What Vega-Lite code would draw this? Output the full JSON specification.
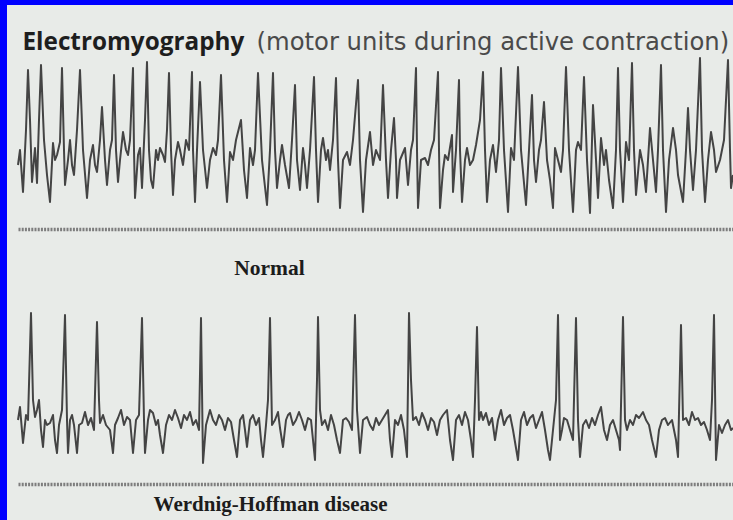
{
  "$schema": "https://vega.github.io/schema/vega-lite/v6.json",
  "width": 726,
  "height": 515,
  "autosize": {"type": "none"},
  "padding": {"left": 7, "top": 5, "right": 0, "bottom": 0},
  "background": "#0000ff",
  "config": {"view": {"fill": "#e8ebe8", "stroke": null}},
  "datasets": {
    "normal": [
      {"t":0,"amp":-15},{"t":2,"amp":0},{"t":5,"amp":-42},{"t":8,"amp":20},{"t":10,"amp":80},{"t":12,"amp":30},{"t":14,"amp":-32},{"t":17,"amp":2},{"t":19,"amp":-33},{"t":21,"amp":30},
      {"t":23,"amp":85},{"t":26,"amp":10},{"t":29,"amp":-25},{"t":32,"amp":-52},{"t":35,"amp":7},{"t":37,"amp":-10},{"t":39,"amp":-5},{"t":42,"amp":8},{"t":44,"amp":82},{"t":46,"amp":0},
      {"t":47,"amp":-35},{"t":50,"amp":-10},{"t":52,"amp":10},{"t":54,"amp":-15},{"t":56,"amp":-25},{"t":59,"amp":20},{"t":62,"amp":80},{"t":65,"amp":0},{"t":69,"amp":-48},{"t":72,"amp":-10},
      {"t":75,"amp":5},{"t":77,"amp":-15},{"t":79,"amp":-22},{"t":82,"amp":10},{"t":84,"amp":43},{"t":87,"amp":-10},{"t":89,"amp":-35},{"t":92,"amp":0},{"t":94,"amp":10},{"t":96,"amp":75},
      {"t":98,"amp":0},{"t":100,"amp":-32},{"t":102,"amp":-10},{"t":105,"amp":18},{"t":108,"amp":0},{"t":110,"amp":-5},{"t":112,"amp":10},{"t":115,"amp":82},{"t":116,"amp":0},{"t":117,"amp":-48},
      {"t":120,"amp":-5},{"t":122,"amp":2},{"t":124,"amp":-38},{"t":127,"amp":30},{"t":129,"amp":88},{"t":131,"amp":0},{"t":133,"amp":-30},{"t":135,"amp":-38},{"t":138,"amp":0},{"t":140,"amp":-10},
      {"t":142,"amp":2},{"t":145,"amp":-5},{"t":147,"amp":-12},{"t":149,"amp":20},{"t":151,"amp":77},{"t":153,"amp":0},{"t":155,"amp":-45},{"t":157,"amp":-10},{"t":160,"amp":8},{"t":162,"amp":0},
      {"t":165,"amp":-15},{"t":168,"amp":10},{"t":171,"amp":0},{"t":174,"amp":78},{"t":175,"amp":0},{"t":177,"amp":-52},{"t":179,"amp":0},{"t":182,"amp":68},{"t":185,"amp":0},{"t":189,"amp":-38},
      {"t":192,"amp":-10},{"t":195,"amp":2},{"t":198,"amp":-5},{"t":200,"amp":10},{"t":203,"amp":75},{"t":206,"amp":-10},{"t":209,"amp":-52},{"t":212,"amp":-2},{"t":215,"amp":-10},{"t":218,"amp":10},
      {"t":223,"amp":30},{"t":226,"amp":-20},{"t":229,"amp":-48},{"t":232,"amp":2},{"t":235,"amp":-15},{"t":237,"amp":0},{"t":240,"amp":77},{"t":244,"amp":-10},{"t":249,"amp":-55},{"t":252,"amp":0},
      {"t":255,"amp":77},{"t":257,"amp":0},{"t":259,"amp":-38},{"t":262,"amp":-10},{"t":264,"amp":5},{"t":267,"amp":-15},{"t":271,"amp":-38},{"t":274,"amp":10},{"t":277,"amp":65},{"t":279,"amp":-10},
      {"t":282,"amp":-40},{"t":285,"amp":2},{"t":287,"amp":-15},{"t":289,"amp":-38},{"t":292,"amp":0},{"t":296,"amp":73},{"t":298,"amp":0},{"t":300,"amp":-52},{"t":303,"amp":0},{"t":305,"amp":12},
      {"t":308,"amp":-10},{"t":310,"amp":0},{"t":312,"amp":-20},{"t":315,"amp":10},{"t":318,"amp":72},{"t":320,"amp":-10},{"t":322,"amp":-58},{"t":325,"amp":-10},{"t":329,"amp":-2},{"t":332,"amp":-15},
      {"t":335,"amp":10},{"t":340,"amp":70},{"t":342,"amp":-10},{"t":345,"amp":-62},{"t":348,"amp":-10},{"t":352,"amp":18},{"t":355,"amp":-15},{"t":358,"amp":0},{"t":362,"amp":-10},{"t":365,"amp":65},
      {"t":368,"amp":-10},{"t":370,"amp":-48},{"t":373,"amp":0},{"t":376,"amp":32},{"t":378,"amp":-10},{"t":379,"amp":-48},{"t":382,"amp":-10},{"t":387,"amp":2},{"t":390,"amp":-35},{"t":393,"amp":0},
      {"t":395,"amp":10},{"t":398,"amp":82},{"t":399,"amp":0},{"t":400,"amp":-58},{"t":403,"amp":-10},{"t":407,"amp":-8},{"t":410,"amp":-15},{"t":413,"amp":0},{"t":416,"amp":10},{"t":420,"amp":78},
      {"t":421,"amp":0},{"t":422,"amp":-58},{"t":425,"amp":-20},{"t":427,"amp":-5},{"t":430,"amp":-10},{"t":434,"amp":15},{"t":435,"amp":-42},{"t":438,"amp":0},{"t":441,"amp":70},{"t":442,"amp":0},
      {"t":444,"amp":-52},{"t":447,"amp":-10},{"t":449,"amp":2},{"t":452,"amp":-15},{"t":455,"amp":-10},{"t":458,"amp":5},{"t":462,"amp":30},{"t":465,"amp":78},{"t":467,"amp":0},{"t":469,"amp":-52},
      {"t":472,"amp":-10},{"t":475,"amp":5},{"t":478,"amp":-22},{"t":481,"amp":10},{"t":483,"amp":82},{"t":486,"amp":0},{"t":490,"amp":-62},{"t":493,"amp":2},{"t":496,"amp":-10},{"t":500,"amp":83},
      {"t":503,"amp":0},{"t":508,"amp":-55},{"t":511,"amp":0},{"t":514,"amp":55},{"t":516,"amp":-10},{"t":518,"amp":-32},{"t":521,"amp":0},{"t":523,"amp":10},{"t":526,"amp":48},{"t":529,"amp":-10},
      {"t":532,"amp":-30},{"t":535,"amp":-58},{"t":537,"amp":2},{"t":540,"amp":-10},{"t":543,"amp":-22},{"t":545,"amp":0},{"t":548,"amp":83},{"t":551,"amp":0},{"t":555,"amp":-62},{"t":558,"amp":0},
      {"t":560,"amp":8},{"t":563,"amp":0},{"t":566,"amp":73},{"t":569,"amp":-10},{"t":572,"amp":-63},{"t":575,"amp":45},{"t":578,"amp":-10},{"t":580,"amp":-48},{"t":583,"amp":12},{"t":586,"amp":-15},
      {"t":588,"amp":0},{"t":591,"amp":-30},{"t":595,"amp":-58},{"t":598,"amp":0},{"t":600,"amp":82},{"t":602,"amp":0},{"t":605,"amp":-52},{"t":608,"amp":8},{"t":611,"amp":-10},{"t":614,"amp":87},
      {"t":616,"amp":0},{"t":618,"amp":-45},{"t":622,"amp":0},{"t":625,"amp":-15},{"t":628,"amp":-42},{"t":632,"amp":22},{"t":635,"amp":-10},{"t":638,"amp":-42},{"t":640,"amp":0},{"t":643,"amp":85},
      {"t":645,"amp":0},{"t":648,"amp":-62},{"t":651,"amp":-10},{"t":655,"amp":22},{"t":658,"amp":0},{"t":660,"amp":-25},{"t":665,"amp":-52},{"t":668,"amp":0},{"t":670,"amp":42},{"t":672,"amp":0},
      {"t":675,"amp":-40},{"t":678,"amp":0},{"t":682,"amp":92},{"t":684,"amp":0},{"t":687,"amp":-52},{"t":690,"amp":-10},{"t":693,"amp":18},{"t":696,"amp":0},{"t":698,"amp":-22},{"t":702,"amp":-10},
      {"t":706,"amp":10},{"t":710,"amp":90},{"t":712,"amp":0},{"t":713,"amp":-38},{"t":715,"amp":-25}
    ],
    "werdnig": [
      {"t":0,"amp":0},{"t":2,"amp":13},{"t":5,"amp":-23},{"t":8,"amp":5},{"t":10,"amp":0},{"t":13,"amp":107},{"t":15,"amp":20},{"t":17,"amp":3},{"t":19,"amp":10},{"t":21,"amp":20},
      {"t":23,"amp":-10},{"t":25,"amp":-27},{"t":27,"amp":0},{"t":29,"amp":-5},{"t":32,"amp":-3},{"t":35,"amp":5},{"t":37,"amp":-20},{"t":39,"amp":-33},{"t":41,"amp":-5},{"t":44,"amp":10},
      {"t":47,"amp":105},{"t":49,"amp":0},{"t":50,"amp":-33},{"t":52,"amp":0},{"t":54,"amp":5},{"t":56,"amp":-5},{"t":59,"amp":-33},{"t":61,"amp":-5},{"t":64,"amp":-3},{"t":67,"amp":8},
      {"t":70,"amp":-5},{"t":73,"amp":2},{"t":76,"amp":-10},{"t":79,"amp":98},{"t":81,"amp":20},{"t":82,"amp":-3},{"t":85,"amp":5},{"t":88,"amp":-5},{"t":92,"amp":-10},{"t":95,"amp":-33},
      {"t":97,"amp":-5},{"t":100,"amp":2},{"t":103,"amp":10},{"t":106,"amp":-5},{"t":109,"amp":3},{"t":112,"amp":0},{"t":115,"amp":-33},{"t":118,"amp":0},{"t":121,"amp":5},{"t":124,"amp":102},
      {"t":126,"amp":0},{"t":127,"amp":-33},{"t":130,"amp":0},{"t":132,"amp":10},{"t":135,"amp":7},{"t":138,"amp":-5},{"t":140,"amp":0},{"t":142,"amp":-15},{"t":145,"amp":-33},{"t":148,"amp":-5},
      {"t":151,"amp":5},{"t":154,"amp":0},{"t":157,"amp":10},{"t":160,"amp":2},{"t":163,"amp":-8},{"t":166,"amp":5},{"t":169,"amp":0},{"t":172,"amp":8},{"t":175,"amp":-5},{"t":178,"amp":0},
      {"t":181,"amp":-10},{"t":183,"amp":102},{"t":185,"amp":-43},{"t":188,"amp":-5},{"t":192,"amp":10},{"t":195,"amp":0},{"t":198,"amp":-5},{"t":201,"amp":5},{"t":204,"amp":0},{"t":207,"amp":-10},
      {"t":210,"amp":2},{"t":213,"amp":-2},{"t":216,"amp":-20},{"t":219,"amp":-37},{"t":222,"amp":0},{"t":225,"amp":5},{"t":227,"amp":-10},{"t":229,"amp":-27},{"t":232,"amp":0},{"t":235,"amp":5},
      {"t":238,"amp":-5},{"t":241,"amp":2},{"t":243,"amp":-20},{"t":245,"amp":-37},{"t":248,"amp":-5},{"t":250,"amp":20},{"t":252,"amp":102},{"t":254,"amp":-5},{"t":257,"amp":0},{"t":260,"amp":8},
      {"t":262,"amp":-8},{"t":265,"amp":-27},{"t":268,"amp":0},{"t":270,"amp":5},{"t":272,"amp":7},{"t":275,"amp":-5},{"t":278,"amp":0},{"t":281,"amp":8},{"t":284,"amp":0},{"t":287,"amp":-10},
      {"t":290,"amp":2},{"t":293,"amp":0},{"t":295,"amp":-20},{"t":297,"amp":-40},{"t":299,"amp":40},{"t":300,"amp":103},{"t":302,"amp":10},{"t":304,"amp":-5},{"t":307,"amp":0},{"t":310,"amp":-10},
      {"t":313,"amp":5},{"t":316,"amp":-5},{"t":319,"amp":-20},{"t":322,"amp":-33},{"t":325,"amp":0},{"t":328,"amp":2},{"t":331,"amp":-2},{"t":334,"amp":-10},{"t":337,"amp":105},{"t":339,"amp":10},
      {"t":342,"amp":-33},{"t":345,"amp":0},{"t":349,"amp":3},{"t":352,"amp":-5},{"t":355,"amp":-10},{"t":358,"amp":2},{"t":361,"amp":-5},{"t":364,"amp":0},{"t":367,"amp":5},{"t":370,"amp":10},
      {"t":372,"amp":-20},{"t":374,"amp":-37},{"t":377,"amp":0},{"t":380,"amp":-5},{"t":383,"amp":5},{"t":386,"amp":-10},{"t":389,"amp":-37},{"t":391,"amp":107},{"t":393,"amp":40},{"t":395,"amp":0},
      {"t":398,"amp":3},{"t":401,"amp":-5},{"t":404,"amp":7},{"t":407,"amp":0},{"t":410,"amp":-10},{"t":413,"amp":2},{"t":416,"amp":-2},{"t":419,"amp":-15},{"t":422,"amp":0},{"t":425,"amp":5},
      {"t":429,"amp":10},{"t":432,"amp":-20},{"t":435,"amp":-40},{"t":438,"amp":0},{"t":441,"amp":5},{"t":444,"amp":-5},{"t":447,"amp":8},{"t":450,"amp":0},{"t":453,"amp":-20},{"t":455,"amp":-37},
      {"t":457,"amp":20},{"t":459,"amp":93},{"t":461,"amp":0},{"t":463,"amp":8},{"t":465,"amp":0},{"t":468,"amp":7},{"t":471,"amp":-5},{"t":474,"amp":2},{"t":477,"amp":-20},{"t":480,"amp":0},
      {"t":483,"amp":10},{"t":486,"amp":-5},{"t":489,"amp":2},{"t":492,"amp":5},{"t":495,"amp":-10},{"t":498,"amp":-28},{"t":500,"amp":-40},{"t":503,"amp":0},{"t":506,"amp":8},{"t":509,"amp":-5},
      {"t":512,"amp":2},{"t":515,"amp":5},{"t":518,"amp":-8},{"t":521,"amp":0},{"t":524,"amp":8},{"t":527,"amp":-10},{"t":530,"amp":-30},{"t":532,"amp":-40},{"t":535,"amp":-10},{"t":538,"amp":20},
      {"t":540,"amp":105},{"t":542,"amp":-20},{"t":544,"amp":-10},{"t":546,"amp":2},{"t":549,"amp":0},{"t":552,"amp":-10},{"t":555,"amp":-20},{"t":558,"amp":102},{"t":560,"amp":0},{"t":562,"amp":-37},
      {"t":565,"amp":-5},{"t":568,"amp":0},{"t":571,"amp":-8},{"t":574,"amp":2},{"t":577,"amp":-5},{"t":580,"amp":5},{"t":583,"amp":13},{"t":586,"amp":-10},{"t":589,"amp":-20},{"t":592,"amp":-5},
      {"t":595,"amp":0},{"t":598,"amp":-10},{"t":601,"amp":-20},{"t":602,"amp":-30},{"t":605,"amp":103},{"t":607,"amp":0},{"t":609,"amp":-10},{"t":612,"amp":0},{"t":615,"amp":-5},{"t":618,"amp":5},
      {"t":621,"amp":2},{"t":625,"amp":8},{"t":628,"amp":0},{"t":631,"amp":-5},{"t":634,"amp":-20},{"t":638,"amp":-37},{"t":641,"amp":-10},{"t":644,"amp":0},{"t":647,"amp":2},{"t":650,"amp":-5},
      {"t":654,"amp":0},{"t":658,"amp":-20},{"t":660,"amp":-37},{"t":663,"amp":95},{"t":665,"amp":0},{"t":668,"amp":2},{"t":671,"amp":-5},{"t":674,"amp":8},{"t":677,"amp":0},{"t":680,"amp":2},
      {"t":683,"amp":-5},{"t":686,"amp":-2},{"t":689,"amp":-10},{"t":692,"amp":-20},{"t":694,"amp":20},{"t":696,"amp":105},{"t":698,"amp":-40},{"t":701,"amp":-5},{"t":704,"amp":-13},{"t":707,"amp":-5},
      {"t":710,"amp":0},{"t":713,"amp":-10},{"t":715,"amp":-8}
    ]
  },
  "layer": [
    {
      "data": {"name": "normal"},
      "mark": {"type": "line", "color": "#444444", "strokeWidth": 2, "strokeJoin": "round"},
      "encoding": {
        "x": {
          "field": "t", "type": "quantitative",
          "scale": {"domain": [-11, 715], "nice": false, "zero": false},
          "axis": {
            "orient": "bottom", "offset": -291, "position": 11,
            "labels": false, "ticks": false, "grid": false,
            "domain": true, "domainColor": "#7d7d7d", "domainWidth": 3.5, "domainDash": [2, 1.2],
            "title": "Normal", "titleFont": "Liberation Serif", "titleFontSize": 21.5, "titleFontWeight": "bold",
            "titleColor": "#1c1c1c", "titleX": 251, "titleY": 45, "titleAlign": "center", "titleBaseline": "alphabetic"
          }
        },
        "y": {
          "field": "amp", "type": "quantitative",
          "scale": {"domain": [-370, 145], "nice": false, "zero": false},
          "axis": {
            "orient": "left", "domain": false, "ticks": false, "labels": false, "grid": false,
            "title": "Electromyography", "titleAngle": 0, "titleX": 15, "titleY": 44,
            "titleAlign": "left", "titleBaseline": "alphabetic",
            "titleFont": "Open Sans", "titleFontSize": 24.3, "titleFontWeight": "bold", "titleColor": "#1e1e1e"
          }
        }
      }
    },
    {
      "data": {"name": "werdnig"},
      "mark": {"type": "line", "color": "#444444", "strokeWidth": 2, "strokeJoin": "round"},
      "encoding": {
        "x": {
          "field": "t", "type": "quantitative",
          "scale": {"domain": [-11, 715], "nice": false, "zero": false},
          "axis": {
            "orient": "bottom", "offset": -36, "position": 11,
            "labels": false, "ticks": false, "grid": false,
            "domain": true, "domainColor": "#7d7d7d", "domainWidth": 3.5, "domainDash": [2, 1.2],
            "title": "Werdnig-Hoffman disease", "titleFont": "Liberation Serif", "titleFontSize": 21, "titleFontWeight": "bold",
            "titleColor": "#1c1c1c", "titleX": 252, "titleY": 26, "titleAlign": "center", "titleBaseline": "alphabetic"
          }
        },
        "y": {
          "field": "amp", "type": "quantitative",
          "scale": {"domain": [-100, 415], "nice": false, "zero": false},
          "axis": {
            "orient": "right", "domain": false, "ticks": false, "labels": false, "grid": false,
            "title": "(motor units during active contraction)", "titleAngle": 0, "titleX": -477, "titleY": 44,
            "titleAlign": "left", "titleBaseline": "alphabetic",
            "titleFont": "DejaVu Sans", "titleFontSize": 24.3, "titleFontWeight": "normal", "titleColor": "#4a4a4a"
          }
        }
      }
    }
  ],
  "resolve": {"scale": {"y": "independent"}, "axis": {"x": "independent", "y": "independent"}}
}
